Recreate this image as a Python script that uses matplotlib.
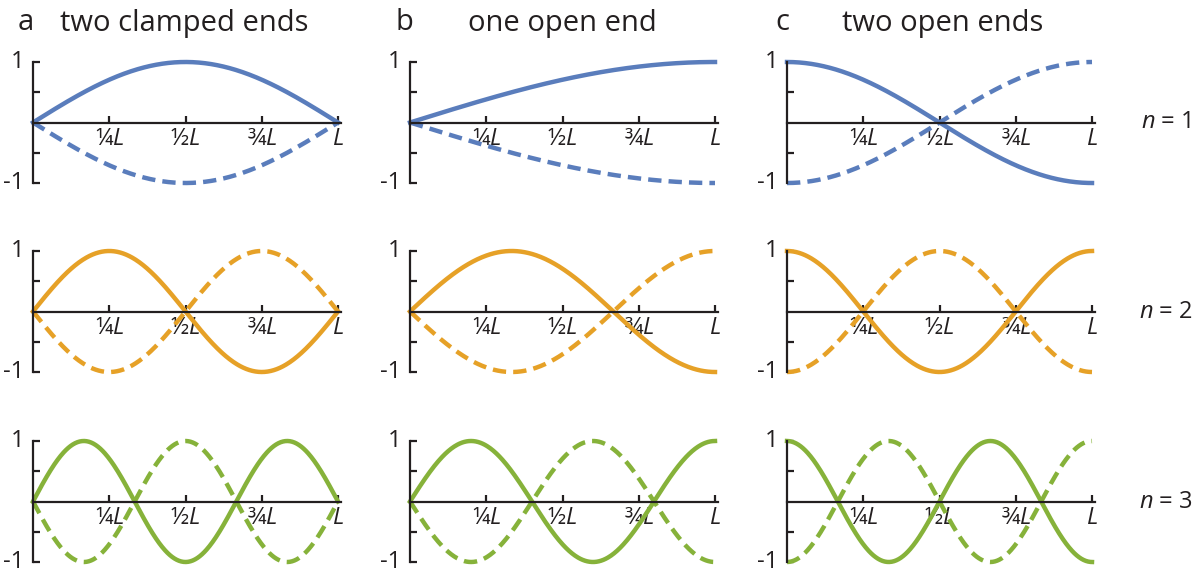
import numpy as np
import matplotlib
matplotlib.use('Agg')
import matplotlib.pyplot as plt

# Panel titles and mode labels
panel_letters = ['a', 'b', 'c']
panel_titles = ['two clamped ends', 'one open end', 'two open ends']
mode_labels = ['$n$ = 1', '$n$ = 2', '$n$ = 3']

# number of quarter wavelengths fitting in L, per column and mode
quarter_waves = {
    'clamped': [2, 4, 6],
    'one_open': [1, 3, 5],
    'two_open': [2, 4, 6],
}
# shape of the solid curve: sine starts at 0, cosine starts at 1
curve_shape = {'clamped': 'sin', 'one_open': 'sin', 'two_open': 'cos'}
columns = ['clamped', 'one_open', 'two_open']

mode_colors = ['#5a7dbc', '#e6a127', '#86b23a']

x_ticks = [0.25, 0.5, 0.75, 1.0]
x_ticklabels = ['¼$L$', '½$L$', '¾$L$', '$L$']
y_ticks = [-1, -0.5, 0.5, 1]
y_ticklabels = ['-1', '', '', '1']

plt.rcParams['font.family'] = ['Open Sans', 'DejaVu Sans']
plt.rcParams['mathtext.fontset'] = 'custom'
plt.rcParams['mathtext.it'] = 'Open Sans:italic'
plt.rcParams['mathtext.rm'] = 'Open Sans'

W, H = 1198, 571
fig = plt.figure(figsize=(W / 100, H / 100), dpi=100)

dark = '#231f20'
col_left = [33, 410, 787]      # pixel position of y axis
col_len = 305                   # pixel length of L
row_top = [62, 251, 441]        # pixel position of y = 1
row_h = 121                     # pixel height from 1 to -1

x = np.linspace(0, 1, 400)

for c, col in enumerate(columns):
    for r in range(3):
        x_extra = 1.01
        ax = fig.add_axes([col_left[c] / W, 1 - (row_top[r] + row_h) / H,
                           col_len * x_extra / W, row_h / H])
        k = quarter_waves[col][r] * np.pi / 2
        if curve_shape[col] == 'sin':
            y = np.sin(k * x)
        else:
            y = np.cos(k * x)
        ax.plot(x, -y, color=mode_colors[r], lw=3.2, ls=(0, (3, 1.6)),
                clip_on=False, solid_capstyle='butt')
        ax.plot(x, y, color=mode_colors[r], lw=3.2, clip_on=False)

        ax.set_xlim(0, x_extra)
        ax.set_ylim(-1, 1)
        for s in ['top', 'right']:
            ax.spines[s].set_visible(False)
        ax.spines['bottom'].set_position(('data', 0))
        ax.spines['left'].set_position(('data', 0))
        for s in ['bottom', 'left']:
            ax.spines[s].set_linewidth(1.6)
            ax.spines[s].set_color(dark)
        ax.set_xticks(x_ticks)
        ax.set_xticklabels(x_ticklabels, fontsize=17)
        ax.set_yticks(y_ticks)
        ax.set_yticklabels(y_ticklabels, fontsize=17)
        for lab in ax.get_yticklabels():
            lab.set_va('center')
        ax.tick_params(direction='in', length=5, width=1.6, color=dark,
                       labelcolor=dark)
        ax.tick_params(axis='x', pad=3)
        ax.tick_params(axis='y', pad=6)
        ax.patch.set_visible(False)

# column titles
letter_x = [18, 395, 775]
title_x = [60, 468, 842]
for c in range(3):
    fig.text(letter_x[c] / W, 1 - 23 / H, panel_letters[c], fontsize=21,
             color=dark, ha='left', va='center')
    fig.text(title_x[c] / W, 1 - 23 / H, panel_titles[c],
             fontsize=21, color=dark, ha='left', va='center')

# mode labels on the right
for r in range(3):
    fig.text(1166 / W, 1 - (row_top[r] + row_h / 2) / H, mode_labels[r],
             fontsize=17, color=dark, ha='center', va='center')

plt.savefig('out.png', dpi=100)
